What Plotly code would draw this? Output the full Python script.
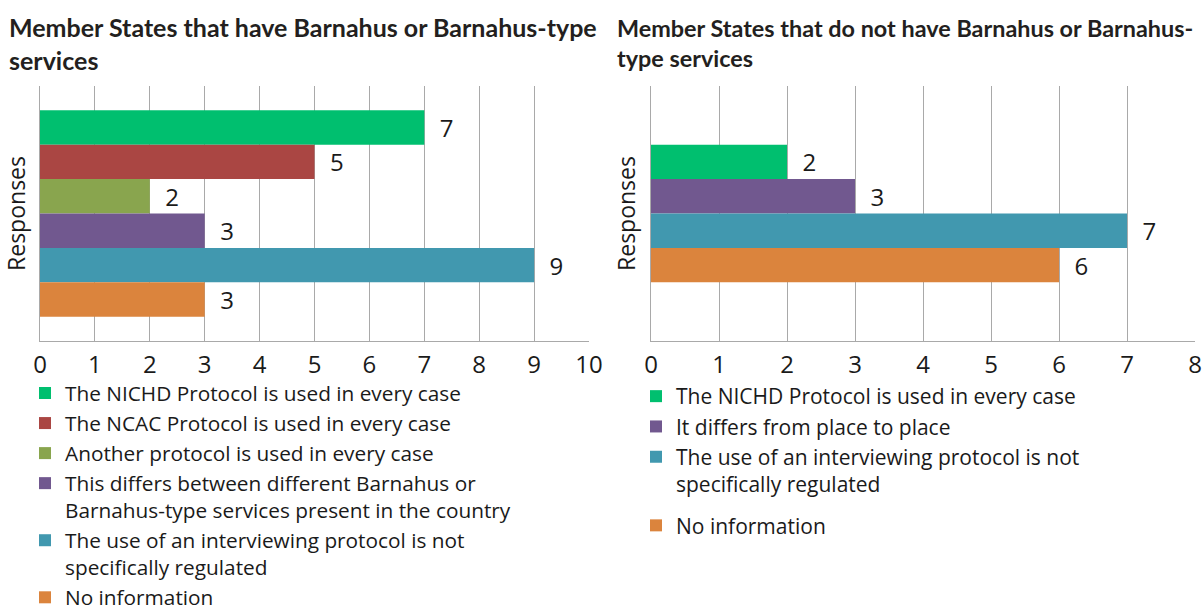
import plotly.graph_objects as go

# ---- data ----
left_title = "Member States that have Barnahus or Barnahus-type<br>services"
right_title = "Member States that do not have Barnahus or Barnahus-<br>type services"
category = ["Responses"]

left_labels = [
    "The NICHD Protocol is used in every case",
    "The NCAC Protocol is used in every case",
    "Another protocol is used in every case",
    "This differs between different Barnahus or<br>Barnahus-type services present in the country",
    "The use of an interviewing protocol is not<br>specifically regulated",
    "No information",
]
left_values = [7, 5, 2, 3, 9, 3]
left_colors = ["#00BF6F", "#AA4643", "#89A54E", "#71588F", "#4198AF", "#DB843D"]

right_labels = [
    "The NICHD Protocol is used in every case",
    "It differs from place to place",
    "The use of an interviewing protocol is not<br>specifically regulated",
    "No information",
]
right_values = [2, 3, 7, 6]
right_colors = ["#00BF6F", "#71588F", "#4198AF", "#DB843D"]
right_groups = ["a", "a", "a", "b"]

left_ticks = list(range(0, 11))
right_ticks = list(range(0, 9))

# ---- style ----
W, H = 1204, 614
FONT = "Open Sans"
TFONT = "Lato"
TXT = "#1a1a1a"
GRID = "#a9a9a9"
BAR_W = 0.135

fig = go.Figure()

def add_group(labels, values, colors, xa, ya, legend, groups=None):
    n = len(values)
    for i, (lab, v, c) in enumerate(zip(labels, values, colors)):
        fig.add_trace(go.Bar(
            orientation="h", x=[v], y=category, name=lab,
            marker=dict(color=c, line=dict(width=0)),
            width=BAR_W, offset=-n * BAR_W / 2 + i * BAR_W,
            text=[v], texttemplate="\u00a0\u00a0%{x}", textposition="outside",
            textfont=dict(family=FONT, size=24, color=TXT),
            constraintext="none", cliponaxis=False,
            legendgroup=(groups[i] if groups else None),
            xaxis=xa, yaxis=ya, legend=legend, hoverinfo="skip",
        ))

add_group(left_labels, left_values, left_colors, "x", "y", "legend")
add_group(right_labels, right_values, right_colors, "x2", "y2", "legend2", right_groups)

ydom = [1 - 341 / H, 1 - 86 / H]
xcommon = dict(showgrid=True, gridcolor=GRID, gridwidth=1, showline=True,
               linecolor=GRID, linewidth=1, zeroline=False, ticks="outside",
               ticklen=2, tickcolor="rgba(0,0,0,0)", automargin=False,
               tickfont=dict(family=FONT, size=24, color=TXT), fixedrange=True)
ycommon = dict(type="category", range=[0.5, -0.5], showgrid=False, showline=True,
               linecolor=GRID, linewidth=1, showticklabels=False, ticks="",
               domain=ydom, fixedrange=True, automargin=False,
               title=dict(text="Responses", font=dict(family=FONT, size=23, color=TXT), standoff=7))

fig.update_layout(
    width=W, height=H, margin=dict(l=0, r=0, t=0, b=0, autoexpand=False),
    paper_bgcolor="white", plot_bgcolor="white",
    barmode="overlay", showlegend=True,
    xaxis=dict(domain=[40 / W, 589 / W], range=[0, 10], tickvals=left_ticks, anchor="y", **xcommon),
    xaxis2=dict(domain=[651 / W, 1195 / W], range=[0, 8], tickvals=right_ticks, anchor="y2", **xcommon),
    yaxis=dict(anchor="x", **ycommon),
    yaxis2=dict(anchor="x2", **ycommon),
    legend=dict(x=25 / W, y=1 - 373 / H, xanchor="left", yanchor="top",
                font=dict(family=FONT, size=20.8, color=TXT), valign="top",
                traceorder="normal", tracegroupgap=0, bgcolor="rgba(0,0,0,0)"),
    legend2=dict(x=636 / W, y=1 - 376 / H, xanchor="left", yanchor="top",
                 font=dict(family=FONT, size=21, color=TXT), valign="top",
                 traceorder="grouped", tracegroupgap=11, bgcolor="rgba(0,0,0,0)"),
    annotations=[
        dict(text="<b>" + left_title + "</b>", xref="paper", yref="paper",
             x=7 / W, y=1 - 10 / H, xanchor="left", yanchor="top", align="left",
             showarrow=False, font=dict(family=TFONT, size=25, color="#231f20")),
        dict(text="<b>" + right_title + "</b>", xref="paper", yref="paper",
             x=615 / W, y=1 - 12 / H, xanchor="left", yanchor="top", align="left",
             showarrow=False, font=dict(family=TFONT, size=23.4, color="#231f20")),
    ],
)

fig.write_html("out.html", config={"displayModeBar": False},
               post_script="document.body.style.margin='0px';")
